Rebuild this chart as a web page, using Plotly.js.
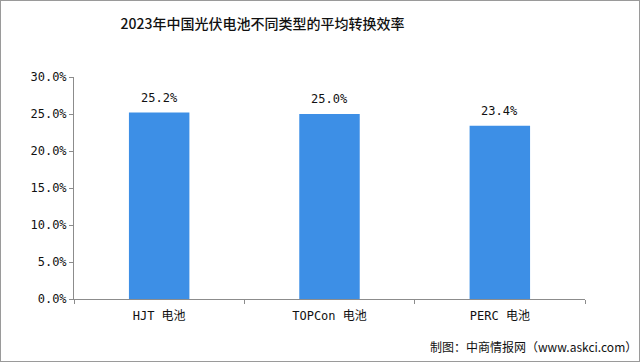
<!DOCTYPE html>
<html>
<head>
<meta charset="utf-8">
<script src="https://cdn.plot.ly/plotly-3.0.1.min.js"></script>
<style>
html,body{margin:0;padding:0;background:#fff;}
#wrap{width:638px;height:360px;border:1px solid #9a9a9a;}
#chart{width:638px;height:360px;}
</style>
</head>
<body>
<div id="wrap"><div id="chart"></div></div>
<script>
const categories = ["HJT 电池", "TOPCon 电池", "PERC 电池"];
const efficiency = [25.2, 25.0, 23.4];
const tickVals = [0, 5, 10, 15, 20, 25, 30];
const tickText = ["0.0%", "5.0%", "10.0%", "15.0%", "20.0%", "25.0%", "30.0%"];

const fontMono = "SimSun, 'DejaVu Sans Mono', 'Noto Sans CJK SC', monospace";

const labelAnns = categories.map((c, i) => ({
  x: c, y: efficiency[i], xref: "x", yref: "y",
  text: efficiency[i].toFixed(1) + "%",
  showarrow: false, yanchor: "bottom", yshift: 6,
  font: {family: fontMono, size: 12, color: "#111"}
}));

Plotly.newPlot("chart", [{
  type: "bar",
  x: categories,
  y: efficiency,
  marker: {color: "#3d8fe6"},
  hoverinfo: "skip"
}], {
  width: 638, height: 360,
  margin: {l: 73, r: 54, t: 76, b: 62},
  paper_bgcolor: "#ffffff",
  plot_bgcolor: "#ffffff",
  bargap: 0.645,
  showlegend: false,
  title: {
    text: "2023年中国光伏电池不同类型的平均转换效率",
    font: {family: "'Noto Sans CJK SC', sans-serif", size: 14, color: "#111", weight: 500},
    x: 0.41, xanchor: "center", y: 0.936, yanchor: "middle"
  },
  xaxis: {
    type: "category",
    showline: true, linecolor: "#8c8c8c", linewidth: 1,
    ticks: "outside", tickson: "boundaries", ticklen: 4, tickcolor: "#8c8c8c",
    ticklabelstandoff: 6,
    tickfont: {family: fontMono, size: 12, color: "#111"},
    showgrid: false, zeroline: false
  },
  yaxis: {
    range: [0, 30],
    tickvals: tickVals, ticktext: tickText,
    showline: true, linecolor: "#8c8c8c", linewidth: 1,
    ticks: "outside", ticklen: 4, tickcolor: "#8c8c8c",
    tickfont: {family: fontMono, size: 12, color: "#111"},
    showgrid: false, zeroline: false
  },
  annotations: labelAnns.concat([{
    text: "制图：中商情报网（www.askci.com）",
    xref: "paper", yref: "paper",
    x: 1.105, y: -0.215, xanchor: "right", yanchor: "middle",
    showarrow: false,
    font: {family: "'Noto Sans CJK SC', sans-serif", size: 12, color: "#111"}
  }])
}, {staticPlot: true, displayModeBar: false});
</script>
</body>
</html>
